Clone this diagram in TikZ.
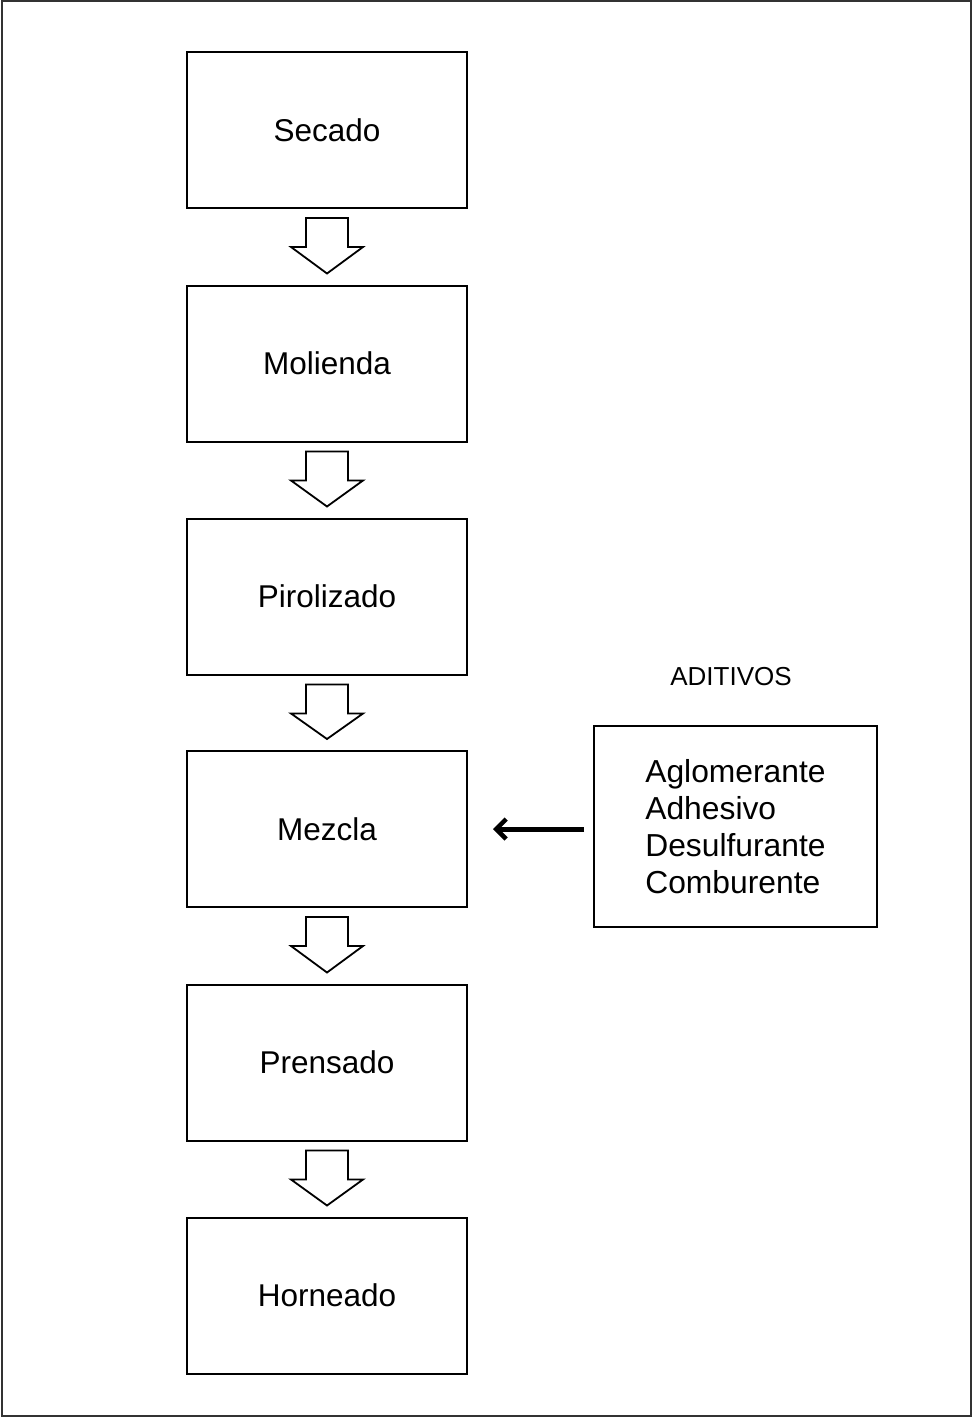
\documentclass[tikz,border=0pt]{standalone}
\usepackage{fontspec}
\setmainfont{Liberation Sans}
\usetikzlibrary{arrows.meta,calc}
\begin{document}
\begin{tikzpicture}[x=1pt,y=-1pt,
  stepbox/.style={draw=black,line width=2pt,minimum width=280pt,minimum height=156pt,inner sep=0pt,font=\fontsize{31.5}{37}\selectfont},
  blockarrow/.style={draw=black,line width=1.8pt,fill=white,line join=miter},
  addbox/.style={draw=black,line width=2pt,minimum width=283pt,minimum height=201pt,inner sep=0pt,align=left,font=\fontsize{31.8}{37}\selectfont},
  feed/.style={line width=5pt,-{Straight Barb[length=10pt,width=20pt,line width=4.5pt]}}]
\useasboundingbox (0,0) rectangle (973,1418);
\draw[line width=2pt,draw=black!80] (2,1) rectangle (971,1416);
\node[stepbox] (secado) at (327,130) {Secado};
\node[stepbox] (molienda) at (327,363.5) {Molienda};
\node[stepbox] (pirolizado) at (327,596.5) {Pirolizado};
\node[stepbox] (mezcla) at (327,829) {Mezcla};
\node[stepbox] (prensado) at (327,1062.5) {Prensado};
\node[stepbox] (horneado) at (327,1295.5) {Horneado};
\node[addbox] (aditivos) at (735.5,826.5) {Aglomerante\\Adhesivo\\Desulfurante\\Comburente};
\node[font=\fontsize{26}{30}\selectfont] (titulo) at (731,677) {ADITIVOS};
\foreach \a/\b in {secado/molienda,molienda/pirolizado,pirolizado/mezcla,mezcla/prensado,prensado/horneado}{
  \draw[blockarrow] ($(\a.south)+(-21,9)$) -- ($(\a.south)+(21,9)$) -- ($(\a.south)+(21,38)$) -- ($(\a.south)+(36,38)$)
    -- ($(\b.north)+(0,-11)$) -- ($(\a.south)+(-36,38)$) -- ($(\a.south)+(-21,38)$) -- cycle;
}
\draw[feed,shorten <=9pt,shorten >=25pt] (aditivos.west |- mezcla.east) -- (mezcla.east);
\end{tikzpicture}
\end{document}
